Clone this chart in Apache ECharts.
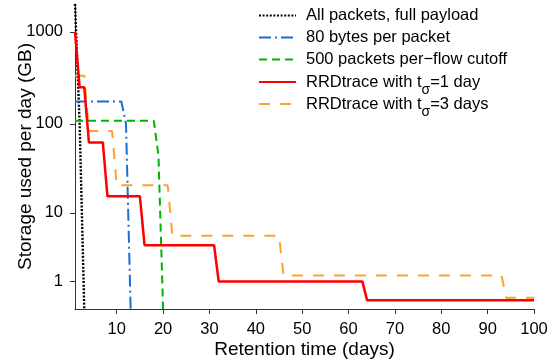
<!DOCTYPE html>
<html>
<head>
<meta charset="utf-8">
<script src="https://cdn.jsdelivr.net/npm/echarts@6/dist/echarts.min.js"></script>
<style>
  html, body { margin: 0; padding: 0; background: #fff; }
  #chart { width: 559px; height: 364px; }
</style>
</head>
<body>
<div id="chart"></div>
<script>
// storage used per day (GB) against retention time (days)
const fullDays = [1, 2, 3];
const fullGB = [2000, 100, 0];
const bytesDays = [1, 11, 12, 13];
const bytesGB = [175, 175, 100, 0];
const cutoffDays = [1, 18, 19, 20];
const cutoffGB = [108, 108, 45, 0];
const rrd1Days = [1, 2, 3, 4, 7, 8, 15, 16, 31, 32, 63, 64, 100];
const rrd1GB = [1000, 250, 250, 62.5, 62.5, 15.6, 15.6, 3.9, 3.9, 0.98, 0.98, 0.24, 0.24];
const rrd3Days = [1, 3, 4, 9, 10, 21, 22, 45, 46, 93, 94, 100];
const rrd3GB = [333, 333, 83.3, 83.3, 20.8, 20.8, 5.2, 5.2, 1.3, 1.3, 0.325, 0.325];

const xTicks = [10, 20, 30, 40, 50, 60, 70, 80, 90, 100];
const yTicks = [1, 10, 100, 1000];

// the y axis is log(1 + GB), so zero sits on the x axis
const tf = v => Math.log10(v + 1);
const pts = (days, gb) => days.map((d, i) => [d, tf(gb[i])]);

const FONT = 'Liberation Sans';
const chart = echarts.init(document.getElementById('chart'), null, { renderer: 'canvas' });

const labels = {
  full: 'All packets, full payload',
  bytes: '80 bytes per packet',
  cutoff: '500 packets per\u2212flow cutoff',
  rrd1: 'RRDtrace with t\u03c3=1 day',
  rrd3: 'RRDtrace with t\u03c3=3 days',
};
const legendOrder = [labels.full, labels.bytes, labels.cutoff, labels.rrd1, labels.rrd3];

function line(name, days, gb, color, width, dash) {
  return {
    name: name,
    type: 'line',
    symbol: 'none',
    data: pts(days, gb),
    itemStyle: { color: color },
    lineStyle: { color: color, width: width, type: dash },
  };
}

// one legend block per row so the subscript rows keep the same spacing
const legends = legendOrder.map((name, i) => {
  const hasSub = name.indexOf('t\u03c3') >= 0;
  const centre = 15.5 + 22 * i;
  return {
    orient: 'vertical',
    left: 258,
    top: centre - (hasSub ? 15 : 10),
    padding: 0,
    itemWidth: 37,
    itemHeight: 14,
    itemStyle: { opacity: 0 },
    selectedMode: false,
    data: [name],
    formatter: n => {
      const k = n.indexOf('t\u03c3');
      if (k < 0) return '{n|' + n + '}';
      return '{n|' + n.slice(0, k + 1) + '}{s|\u03c3}{n|' + n.slice(k + 2) + '}';
    },
    textStyle: {
      fontFamily: FONT,
      fontSize: 16.5,
      lineHeight: 20,
      color: '#000',
      padding: [0, 0, 0, 5],
      rich: {
        n: { fontFamily: FONT, fontSize: 16.5, lineHeight: 20, color: '#000' },
        s: { fontFamily: FONT, fontSize: 14, lineHeight: 6, padding: [17, 0, 0, 0], color: '#000' },
      },
    },
  };
});

const option = {
  animation: false,
  backgroundColor: '#fff',
  grid: { left: 75, right: 25, top: 4, bottom: 55, outerBoundsMode: 'none' },
  legend: legends,
  xAxis: {
    type: 'value',
    min: 1,
    max: 100,
    name: 'Retention time (days)',
    nameLocation: 'middle',
    nameGap: 31,
    nameMoveOverlap: false,
    nameTextStyle: { fontFamily: FONT, fontSize: 19, color: '#000' },
    axisLine: { lineStyle: { color: '#333', width: 1 } },
    axisTick: { customValues: xTicks, length: 5, lineStyle: { color: '#333' } },
    axisLabel: { customValues: xTicks, margin: 12, fontFamily: FONT, fontSize: 16.5, color: '#000' },
    splitLine: { show: false },
  },
  yAxis: {
    type: 'value',
    min: 0,
    max: 'dataMax',
    name: 'Storage used per day (GB)',
    nameLocation: 'middle',
    nameGap: 40,
    nameMoveOverlap: false,
    nameTextStyle: { fontFamily: FONT, fontSize: 19, color: '#000' },
    axisLine: { show: true, lineStyle: { color: '#333', width: 1 } },
    axisTick: { show: true, customValues: yTicks.map(tf), length: 5, lineStyle: { color: '#333' } },
    axisLabel: {
      customValues: yTicks.map(tf),
      margin: 12,
      fontFamily: FONT,
      fontSize: 16.5,
      color: '#000',
      formatter: v => String(Math.round(Math.pow(10, v) - 1)),
    },
    splitLine: { show: false },
  },
  series: [
    line(labels.full, fullDays, fullGB, '#000', 2.4, [2, 1.6]),
    line(labels.bytes, bytesDays, bytesGB, '#1a6fd4', 2, [12, 4, 2, 4]),
    line(labels.cutoff, cutoffDays, cutoffGB, '#00b400', 2, [8, 5]),
    line(labels.rrd3, rrd3Days, rrd3GB, '#ffa033', 2, [11, 10]),
    line(labels.rrd1, rrd1Days, rrd1GB, '#ff0000', 2.5, 'solid'),
  ],
};

chart.setOption(option);
</script>
</body>
</html>
